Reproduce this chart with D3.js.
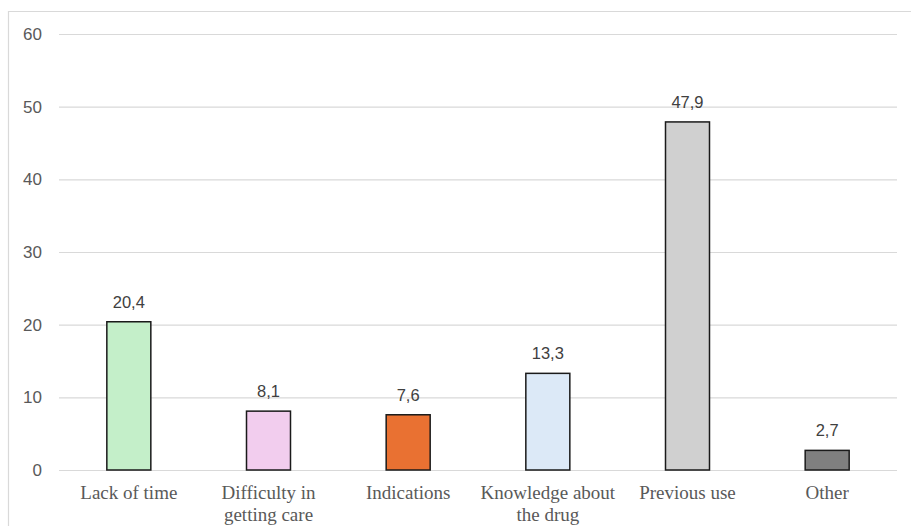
<!DOCTYPE html>
<html>
<head>
<meta charset="utf-8">
<script src="https://cdn.jsdelivr.net/npm/d3@7/dist/d3.min.js"></script>
<style>
  html, body { margin: 0; padding: 0; background: #fff; }
  svg { display: block; }
</style>
</head>
<body>
<svg id="chart" width="911" height="526"></svg>
<script>
// Reasons for choosing the medicine (%)
const categories = [
  ["Lack of time"],
  ["Difficulty in", "getting care"],
  ["Indications"],
  ["Knowledge about", "the drug"],
  ["Previous use"],
  ["Other"]
];
const values = [20.4, 8.1, 7.6, 13.3, 47.9, 2.7];
const barColors = ["#c4efc9", "#f2cdee", "#e97132", "#dce9f7", "#d0d0d0", "#7f7f7f"];
const yTicks = [0, 10, 20, 30, 40, 50, 60];

const svg = d3.select("#chart");
const W = 911, H = 526;
const plot = { left: 59, right: 897, top: 34, bottom: 470 };

// outer frame (top and left edges visible)
svg.append("path")
  .attr("d", `M8.5,${H} L8.5,11.5 L${W},11.5`)
  .attr("fill", "none")
  .attr("stroke", "#d9d9d9")
  .attr("stroke-width", 1.2);

const x = d3.scaleBand()
  .domain(d3.range(categories.length))
  .range([plot.left, plot.right])
  .paddingInner(0.685)
  .paddingOuter(0.3425);

const y = d3.scaleLinear()
  .domain([0, 60])
  .range([plot.bottom, plot.top]);

// gridlines and tick labels
const yAxis = d3.axisLeft(y)
  .tickValues(yTicks)
  .tickSize(-(plot.right - plot.left))
  .tickPadding(17)
  .tickFormat(d3.format("d"));

const gy = svg.append("g")
  .attr("transform", `translate(${plot.left},0)`)
  .call(yAxis);
gy.select(".domain").remove();
gy.selectAll(".tick line")
  .attr("stroke", "#d9d9d9")
  .attr("stroke-width", 1.2);
gy.selectAll(".tick text")
  .attr("fill", "#595959")
  .attr("font-family", "Liberation Sans, Arial, sans-serif")
  .attr("font-size", 17);

// bars
svg.append("g").selectAll("rect")
  .data(values)
  .join("rect")
  .attr("x", (d, i) => x(i))
  .attr("y", d => y(d))
  .attr("width", x.bandwidth())
  .attr("height", d => y(0) - y(d))
  .attr("fill", (d, i) => barColors[i])
  .attr("stroke", "#1a1a1a")
  .attr("stroke-width", 1.5);

// value labels
svg.append("g").selectAll("text")
  .data(values)
  .join("text")
  .attr("x", (d, i) => x(i) + x.bandwidth() / 2)
  .attr("y", d => y(d) - 14)
  .attr("text-anchor", "middle")
  .attr("fill", "#404040")
  .attr("font-family", "Liberation Sans, Arial, sans-serif")
  .attr("font-size", 16.5)
  .text(d => d3.format(".1f")(d).replace(".", ","));

// category labels
const cat = svg.append("g").selectAll("text")
  .data(categories)
  .join("text")
  .attr("x", (d, i) => x(i) + x.bandwidth() / 2)
  .attr("y", 499)
  .attr("text-anchor", "middle")
  .attr("fill", "#595959")
  .attr("font-family", "Liberation Serif, Times New Roman, serif")
  .attr("font-size", 19);
cat.selectAll("tspan")
  .data(d => d)
  .join("tspan")
  .attr("x", function () { return d3.select(this.parentNode).attr("x"); })
  .attr("dy", (d, i) => i === 0 ? 0 : 22)
  .text(d => d);
</script>
</body>
</html>
